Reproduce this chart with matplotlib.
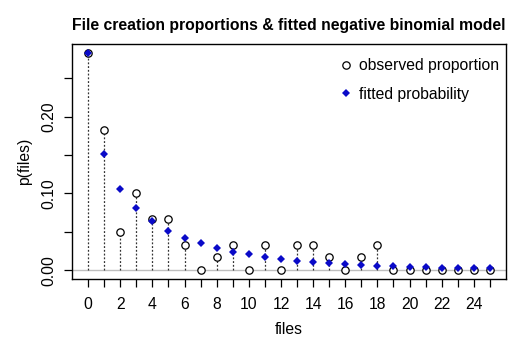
import matplotlib
matplotlib.use("Agg")
import matplotlib.pyplot as plt
from matplotlib.lines import Line2D

files = list(range(26))
observed = [0.2833, 0.1833, 0.0500, 0.1000, 0.0667, 0.0667, 0.0333, 0.0, 0.0167, 0.0333,
            0.0, 0.0333, 0.0, 0.0333, 0.0333, 0.0167, 0.0, 0.0167, 0.0333, 0.0,
            0.0, 0.0, 0.0, 0.0, 0.0, 0.0]
fitted = [0.2830, 0.1520, 0.1060, 0.0812, 0.0648, 0.0515, 0.0423, 0.0356, 0.0292, 0.0243,
          0.0208, 0.0172, 0.0145, 0.0122, 0.0108, 0.0093, 0.0080, 0.0069, 0.0058, 0.0050,
          0.0044, 0.0039, 0.0034, 0.0030, 0.0027, 0.0024]
xticks = list(range(26))
xlabels = [str(v) if v % 2 == 0 else "" for v in xticks]
yticks = [0.0, 0.05, 0.10, 0.15, 0.20, 0.25]
ylabels = ["0.00", "", "0.10", "", "0.20", ""]

plt.rcParams['font.family'] = ['Liberation Sans', 'DejaVu Sans']
FS = 11.3

fig = plt.figure(figsize=(5.24, 3.46), dpi=100)
ax = fig.add_axes([72/524, 1-279/346, (506-72)/524, (279-44)/346])

ax.axhline(0, color='#BEBEBE', lw=1, zorder=1)
ax.vlines(files, 0, observed, colors='#333333', linestyles=(0, (1.5, 1.5)), lw=0.9, zorder=2)
ax.plot(files, fitted, 'D', color='#0A0AC8', markersize=4.3, markeredgewidth=0, zorder=4)
ax.plot(files, observed, 'o', markerfacecolor='white', markeredgecolor='black',
        markersize=5.3, markeredgewidth=0.9, zorder=3)

ax.set_xlim(-1, 26)
ax.set_ylim(-0.0113, 0.2946)
ax.set_xticks(xticks)
ax.set_xticklabels(xlabels, fontsize=FS)
ax.set_yticks(yticks)
ax.set_yticklabels(ylabels, fontsize=FS, rotation=90, va='center')
ax.tick_params(axis='x', direction='out', length=6, width=0.9, pad=7)
ax.tick_params(axis='y', direction='out', length=6, width=0.9, pad=5)
for s in ax.spines.values():
    s.set_linewidth(1.0)

ax.set_xlabel("files", fontsize=FS, labelpad=7)
ax.set_ylabel("p(files)", fontsize=FS, labelpad=7)
ax.set_title("File creation proportions & fitted negative binomial model",
             fontsize=FS, fontweight='bold', pad=10)

h1 = Line2D([], [], marker='o', linestyle='none', markerfacecolor='white',
            markeredgecolor='black', markersize=5.3, markeredgewidth=0.9)
h2 = Line2D([], [], marker='D', linestyle='none', color='#0A0AC8',
            markersize=4.3, markeredgewidth=0)
ax.legend([h1, h2], ["observed proportion", "fitted probability"],
          loc='upper left', bbox_to_anchor=((332-72)/434, 1-(52-44)/235),
          frameon=False, fontsize=FS, handlelength=1.0, handletextpad=0.3,
          labelspacing=0.85, borderaxespad=0)

fig.savefig("out.png", dpi=100)
